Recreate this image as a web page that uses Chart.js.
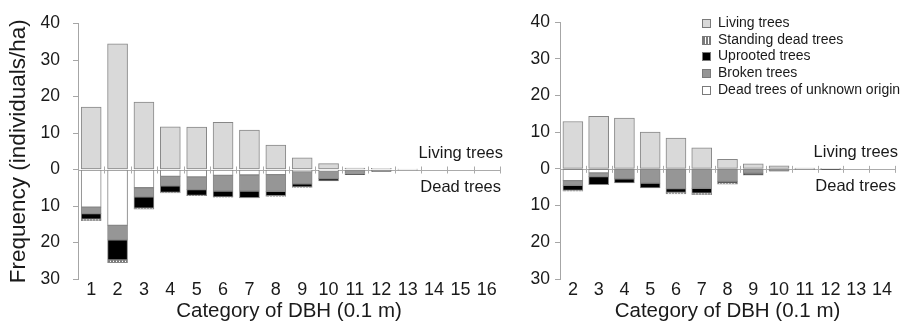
<!DOCTYPE html>
<html>
<head>
<meta charset="utf-8">
<script src="https://cdn.jsdelivr.net/npm/chart.js@4"></script>
<style>
  body { margin: 0; background: #fff; }
  #wrap { position: relative; width: 903px; height: 324px; overflow: hidden; }
  #c1 { position: absolute; left: 0; top: 0; }
  #c2 { position: absolute; left: 510px; top: 0; }
  #legend {
    position: absolute; left: 702px; top: 14px;
    font-family: "Liberation Sans", Arial, sans-serif; font-size: 14px; color: #1a1a1a;
  }
  #legend div { height: 16.7px; line-height: 16.7px; white-space: nowrap; }
  #legend span.sw {
    display: inline-block; width: 7px; height: 7px; border: 1px solid #7a7a7a;
    margin-right: 7px; vertical-align: -1px;
  }
</style>
</head>
<body>
<div id="wrap">
  <canvas id="c1" width="510" height="324"></canvas>
  <canvas id="c2" width="393" height="324"></canvas>
  <div id="legend">
    <div><span class="sw" style="background:#d9d9d9"></span>Living trees</div>
    <div><span class="sw" style="background:repeating-linear-gradient(90deg,#7a7a7a 0 2px,#fff 2px 3px)"></span>Standing dead trees</div>
    <div><span class="sw" style="background:#000"></span>Uprooted trees</div>
    <div><span class="sw" style="background:#969696"></span>Broken trees</div>
    <div><span class="sw" style="background:#fff"></span>Dead trees of unknown origin</div>
  </div>
</div>
<script>
// left panel, DBH categories 1-16
const catsA = ["1", "2", "3", "4", "5", "6", "7", "8", "9", "10", "11", "12", "13", "14", "15", "16"];
const livingA = [17.1, 34.4, 18.5, 11.7, 11.6, 12.9, 10.8, 6.7, 3.2, 1.6, 0.4, 0.3, 0.1, 0, 0, 0];
const unknownA = [10.3, 15.3, 5.0, 1.9, 2.0, 1.6, 1.5, 1.4, 0.6, 0.3, 0, 0, 0, 0, 0, 0];
const brokenA = [1.8, 4.0, 2.5, 2.6, 3.5, 4.3, 4.4, 4.6, 3.3, 2.2, 1.1, 0.4, 0.2, 0, 0, 0];
const uprootedA = [1.5, 5.5, 3.1, 1.8, 1.6, 1.6, 1.8, 1.2, 0.9, 0.6, 0.3, 0.1, 0, 0, 0, 0];
const standingA = [0.4, 0.7, 0.3, 0.1, 0.1, 0.1, 0.1, 0.2, 0.1, 0, 0, 0, 0, 0, 0, 0];

// right panel, DBH categories 2-14
const catsB = ["2", "3", "4", "5", "6", "7", "8", "9", "10", "11", "12", "13", "14"];
const livingB = [12.9, 14.3, 13.8, 10.0, 8.4, 5.7, 2.6, 1.4, 0.8, 0.2, 0.1, 0, 0];
const unknownB = [3.2, 1.1, 0, 0, 0, 0, 0, 0, 0, 0, 0, 0, 0];
const brokenB = [1.3, 1.0, 2.7, 3.9, 5.4, 5.3, 3.4, 1.2, 0.5, 0.2, 0.1, 0, 0];
const uprootedB = [1.4, 2.2, 1.1, 1.3, 1.0, 1.3, 0.4, 0.5, 0.1, 0, 0.1, 0, 0];
const standingB = [0.2, 0, 0, 0, 0.4, 0.4, 0.4, 0, 0, 0, 0, 0, 0];

const yTicks = [40, 30, 20, 10, 0, -10, -20, -30];

Chart.defaults.font.family = '"Liberation Sans", Arial, sans-serif';
Chart.defaults.color = "#1a1a1a";

// vertical stripes for standing dead trees
const pc = document.createElement("canvas");
pc.width = 3;
pc.height = 3;
const pctx = pc.getContext("2d");
pctx.fillStyle = "#fff";
pctx.fillRect(0, 0, 3, 3);
pctx.fillStyle = "#7a7a7a";
pctx.fillRect(0, 0, 2, 3);
const stripes = pctx.createPattern(pc, "repeat");

const edge = "#878787";

function makeSets(living, unknown, broken, uprooted, standing) {
  const neg = (arr) => arr.map((v) => -v);
  const base = { borderColor: edge, borderWidth: 1, borderSkipped: false, barThickness: 20 };
  return [
    { ...base, label: "Living trees", data: living, backgroundColor: "#d9d9d9" },
    { ...base, label: "Dead trees of unknown origin", data: neg(unknown), backgroundColor: "#ffffff" },
    { ...base, label: "Broken trees", data: neg(broken), backgroundColor: "#969696" },
    { ...base, label: "Uprooted trees", data: neg(uprooted), backgroundColor: "#000000" },
    { ...base, label: "Standing dead trees", data: neg(standing), backgroundColor: stripes },
  ];
}

// zero line with small category ticks, plus the Living / Dead labels
const zeroLine = {
  id: "zeroLine",
  beforeDatasetsDraw(chart) {
    const { ctx, chartArea } = chart;
    const y0 = chart.scales.y.getPixelForValue(0);
    const n = chart.data.labels.length;
    const step = (chartArea.right - chartArea.left) / n;
    ctx.save();
    ctx.strokeStyle = "#ababab";
    ctx.lineWidth = 1;
    ctx.beginPath();
    ctx.moveTo(chartArea.left, Math.round(y0) + 0.5);
    ctx.lineTo(chartArea.right, Math.round(y0) + 0.5);
    for (let i = 1; i <= n; i++) {
      const x = Math.round(chartArea.left + i * step) + 0.5;
      ctx.moveTo(x, y0 - 3);
      ctx.lineTo(x, y0 + 4);
    }
    ctx.stroke();
    ctx.restore();
  },
  afterDraw(chart) {
    const { ctx, chartArea } = chart;
    const y0 = chart.scales.y.getPixelForValue(0);
    ctx.save();
    ctx.font = '16.5px "Liberation Sans", Arial, sans-serif';
    ctx.fillStyle = "#1a1a1a";
    ctx.textAlign = "right";
    ctx.textBaseline = "middle";
    ctx.fillText("Living trees", chartArea.right + 3, y0 - 16);
    ctx.fillText("Dead trees", chartArea.right + 1, y0 + 18);
    ctx.restore();
  },
};

function makeChart(id, cats, sets, axisWidth, labelPad, showTitle, padRight) {
  return new Chart(document.getElementById(id), {
    type: "bar",
    data: { labels: cats, datasets: sets },
    options: {
      responsive: false,
      animation: false,
      layout: { padding: { top: 22, right: padRight, bottom: 0, left: 0 } },
      plugins: { legend: { display: false }, tooltip: { enabled: false } },
      scales: {
        x: {
          stacked: true,
          grid: { display: false, drawTicks: false },
          border: { display: false },
          ticks: { font: { size: 18 }, color: "#1a1a1a", padding: 0, maxRotation: 0, autoSkip: false },
          title: {
            display: true,
            text: "Category of DBH (0.1 m)",
            font: { size: 20.5 },
            color: "#1a1a1a",
            padding: { top: 0, bottom: 0 },
          },
          afterFit(scale) {
            scale.height = 45;
          },
        },
        y: {
          stacked: true,
          min: -30,
          max: 40,
          afterBuildTicks(scale) {
            scale.ticks = yTicks.map((v) => ({ value: v }));
          },
          grid: { drawOnChartArea: false, drawTicks: true, tickLength: 5, color: "#a6a6a6" },
          border: { display: true, color: "#a6a6a6" },
          ticks: {
            font: { size: 17.5 },
            color: "#1a1a1a",
            padding: labelPad,
            callback: (v) => Math.abs(v),
          },
          title: {
            display: showTitle,
            text: "Frequency (individuals/ha)",
            font: { size: 22.5 },
            color: "#1a1a1a",
            padding: { top: 5, bottom: 0 },
          },
          afterFit(scale) {
            scale.width = axisWidth;
          },
        },
      },
    },
    plugins: [zeroLine],
  });
}

makeChart("c1", catsA, makeSets(livingA, unknownA, brokenA, uprootedA, standingA), 78, 13, true, 10);
makeChart("c2", catsB, makeSets(livingB, unknownB, brokenB, uprootedB, standingB), 50, 5, false, 8);
</script>
</body>
</html>
